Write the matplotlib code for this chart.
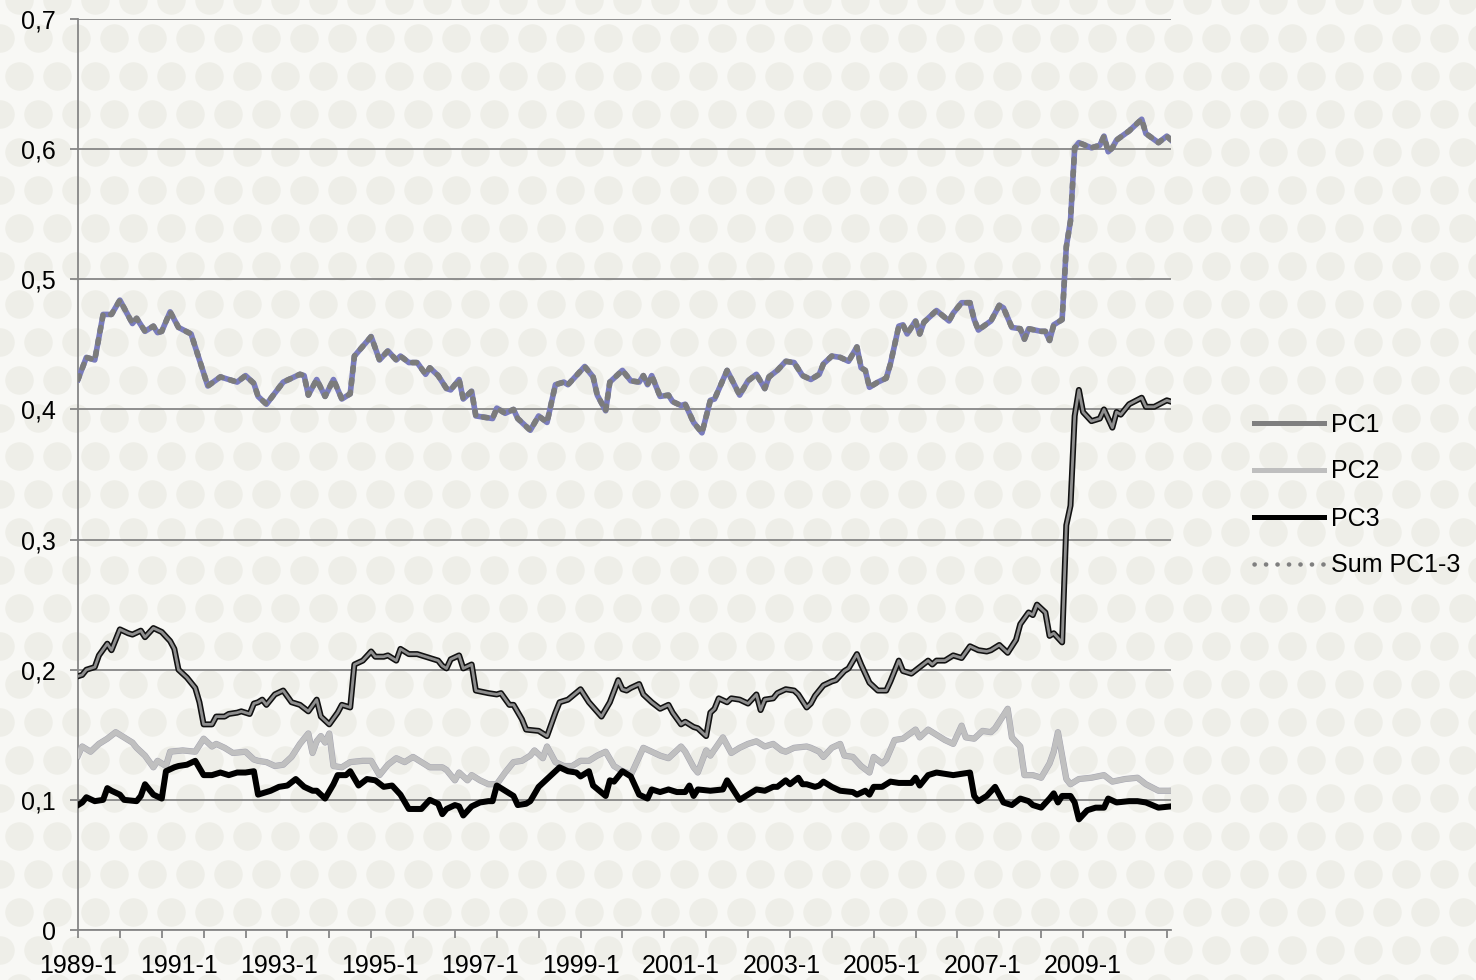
import numpy as np
import matplotlib
matplotlib.use("Agg")
import matplotlib.pyplot as plt
import matplotlib.patheffects as pe
from matplotlib.lines import Line2D
from matplotlib.ticker import FixedLocator

# ---------------- data (month index: 0 = 1989-1) ----------------
sum_m = [0, 2, 4, 6, 8, 10, 13, 14, 16, 18, 19, 20, 22, 24, 27, 29, 31, 34, 36, 38, 40, 42, 43, 45,
         49, 53, 54, 55, 57, 59, 61, 63, 65, 66, 70, 72, 74, 76, 77, 79, 81, 83, 84, 86, 88, 89, 91,
         92, 94, 95, 99, 100, 102, 104, 105, 108, 110, 112, 114, 116, 117, 121, 123, 124, 126, 127,
         130, 132, 134, 135, 136, 137, 139, 141, 142, 144, 145, 147, 149, 151, 152, 155, 158, 160,
         162, 164, 165, 167, 169, 171, 173, 175, 177, 178, 180, 182, 184, 186, 187, 188, 189, 191,
         193, 194, 196, 197, 198, 200, 201, 202, 205, 208, 209, 211, 213, 214, 215, 218, 220, 221,
         223, 225, 226, 227, 230, 231, 232, 233, 235, 236, 237, 238, 239, 242, 244, 245, 246, 247,
         248, 251, 254, 255, 258, 260, 261]
sum_v = [0.423, 0.440, 0.438, 0.473, 0.473, 0.484, 0.466, 0.470, 0.460, 0.464, 0.459, 0.460, 0.475,
         0.463, 0.458, 0.438, 0.418, 0.425, 0.423, 0.421, 0.426, 0.420, 0.410, 0.404, 0.421, 0.427,
         0.426, 0.411, 0.423, 0.410, 0.423, 0.408, 0.412, 0.441, 0.456, 0.438, 0.445, 0.438, 0.441,
         0.436, 0.436, 0.427, 0.432, 0.426, 0.416, 0.415, 0.423, 0.408, 0.414, 0.395, 0.393, 0.401,
         0.397, 0.400, 0.393, 0.384, 0.395, 0.390, 0.419, 0.421, 0.419, 0.433, 0.425, 0.411, 0.399,
         0.421, 0.430, 0.422, 0.421, 0.426, 0.419, 0.426, 0.410, 0.411, 0.406, 0.403, 0.404, 0.390,
         0.382, 0.407, 0.408, 0.430, 0.411, 0.422, 0.427, 0.416, 0.425, 0.430, 0.437, 0.436, 0.426,
         0.423, 0.427, 0.435, 0.441, 0.440, 0.437, 0.448, 0.432, 0.430, 0.417, 0.421, 0.424, 0.435,
         0.464, 0.465, 0.458, 0.468, 0.458, 0.467, 0.476, 0.468, 0.474, 0.482, 0.482, 0.469, 0.461,
         0.468, 0.480, 0.478, 0.463, 0.462, 0.454, 0.462, 0.460, 0.460, 0.453, 0.465, 0.469, 0.525,
         0.545, 0.601, 0.605, 0.601, 0.603, 0.610, 0.598, 0.601, 0.607, 0.614, 0.623, 0.612, 0.605,
         0.610, 0.607]

pc1_m = [0, 1, 2, 4, 5, 7, 8, 9, 10, 12, 13, 15, 16, 18, 20, 22, 23, 24, 26, 28, 29, 30, 32, 33,
         35, 36, 38, 39, 41, 42, 43, 44, 45, 47, 49, 51, 53, 55, 57, 58, 60, 62, 63, 65, 66, 68, 70,
         71, 73, 74, 76, 77, 79, 81, 83, 86, 87, 88, 89, 91, 92, 94, 95, 98, 100, 101, 103, 104, 106,
         107, 110, 112, 114, 115, 117, 120, 122, 125, 127, 129, 130, 131, 132, 134, 135, 137, 139,
         141, 142, 144, 145, 147, 148, 150, 151, 152, 153, 155, 156, 158, 160, 162, 163, 164, 166,
         167, 169, 171, 172, 174, 175, 176, 178, 180, 181, 183, 184, 186, 187, 189, 191, 193, 194,
         196, 197, 199, 201, 203, 204, 205, 207, 209, 211, 213, 215, 217, 218, 220, 222, 224, 225,
         227, 228, 229, 231, 232, 233, 235, 236, 237, 238, 239, 240, 242, 244, 245, 247, 248, 249,
         251, 254, 255, 257, 260, 261]
pc1_v = [0.195, 0.196, 0.200, 0.202, 0.211, 0.220, 0.215, 0.223, 0.231, 0.228, 0.227, 0.230, 0.225,
         0.232, 0.229, 0.222, 0.216, 0.200, 0.194, 0.186, 0.175, 0.158, 0.158, 0.164, 0.164, 0.166,
         0.167, 0.168, 0.166, 0.174, 0.175, 0.177, 0.173, 0.181, 0.184, 0.175, 0.173, 0.168, 0.177,
         0.164, 0.158, 0.167, 0.173, 0.171, 0.204, 0.207, 0.214, 0.210, 0.210, 0.211, 0.207, 0.216,
         0.212, 0.212, 0.210, 0.207, 0.203, 0.201, 0.208, 0.211, 0.201, 0.204, 0.184, 0.182, 0.181,
         0.182, 0.173, 0.173, 0.162, 0.154, 0.153, 0.149, 0.167, 0.175, 0.177, 0.185, 0.175, 0.164,
         0.175, 0.192, 0.185, 0.184, 0.186, 0.189, 0.181, 0.175, 0.170, 0.173, 0.167, 0.158, 0.160,
         0.156, 0.155, 0.149, 0.167, 0.170, 0.178, 0.175, 0.178, 0.177, 0.174, 0.181, 0.169, 0.177,
         0.178, 0.182, 0.185, 0.184, 0.181, 0.171, 0.174, 0.180, 0.188, 0.191, 0.192, 0.199, 0.201,
         0.212, 0.204, 0.190, 0.184, 0.184, 0.191, 0.207, 0.199, 0.197, 0.202, 0.207, 0.204, 0.207,
         0.207, 0.211, 0.209, 0.218, 0.215, 0.214, 0.215, 0.219, 0.213, 0.223, 0.235, 0.244, 0.242,
         0.250, 0.244, 0.226, 0.228, 0.221, 0.311, 0.326, 0.395, 0.415, 0.398, 0.391, 0.393, 0.400,
         0.386, 0.398, 0.396, 0.404, 0.409, 0.402, 0.402, 0.407, 0.406]

pc2_m = [0, 1, 3, 5, 7, 9, 11, 13, 14, 16, 18, 19, 21, 22, 25, 28, 30, 32, 33, 35, 37, 40, 42, 43,
         45, 47, 49, 51, 53, 55, 56, 57, 58, 59, 60, 61, 63, 65, 68, 70, 72, 74, 76, 78, 80, 82, 84,
         87, 88, 90, 91, 93, 94, 96, 98, 100, 102, 104, 106, 108, 109, 111, 112, 114, 116, 118, 120,
         122, 124, 126, 128, 130, 131, 132, 135, 137, 139, 141, 144, 145, 147, 148, 150, 151, 154,
         156, 158, 160, 162, 164, 166, 168, 169, 171, 174, 175, 177, 178, 180, 182, 183, 185, 187,
         189, 190, 192, 193, 195, 197, 200, 201, 203, 206, 207, 209, 211, 212, 214, 216, 218, 219,
         222, 223, 225, 226, 228, 230, 232, 233, 234, 236, 237, 239, 242, 245, 247, 250, 253, 255,
         258, 261]
pc2_v = [0.134, 0.141, 0.137, 0.143, 0.147, 0.152, 0.148, 0.144, 0.140, 0.134, 0.125, 0.130, 0.126,
         0.137, 0.138, 0.137, 0.147, 0.141, 0.143, 0.140, 0.136, 0.137, 0.131, 0.130, 0.129, 0.126,
         0.127, 0.133, 0.143, 0.151, 0.136, 0.145, 0.149, 0.144, 0.151, 0.126, 0.125, 0.129, 0.130,
         0.130, 0.119, 0.127, 0.132, 0.129, 0.133, 0.129, 0.125, 0.125, 0.123, 0.115, 0.121, 0.115,
         0.119, 0.115, 0.112, 0.112, 0.121, 0.129, 0.130, 0.134, 0.138, 0.132, 0.141, 0.129, 0.126,
         0.126, 0.130, 0.130, 0.134, 0.137, 0.126, 0.122, 0.121, 0.119, 0.140, 0.137, 0.134, 0.132,
         0.141, 0.137, 0.125, 0.121, 0.138, 0.134, 0.148, 0.136, 0.140, 0.143, 0.145, 0.141, 0.143,
         0.138, 0.137, 0.140, 0.141, 0.140, 0.137, 0.133, 0.140, 0.143, 0.134, 0.133, 0.126, 0.121,
         0.133, 0.128, 0.131, 0.146, 0.147, 0.154, 0.148, 0.154, 0.148, 0.146, 0.143, 0.157, 0.148,
         0.147, 0.153, 0.152, 0.155, 0.170, 0.148, 0.141, 0.119, 0.119, 0.117, 0.128, 0.137, 0.152,
         0.116, 0.112, 0.116, 0.117, 0.119, 0.114, 0.116, 0.117, 0.112, 0.107, 0.107]

pc3_m = [0, 1, 2, 4, 6, 7, 8, 10, 11, 14, 15, 16, 18, 20, 21, 23, 24, 26, 28, 30, 32, 34, 36, 38,
         40, 42, 43, 46, 48, 50, 52, 54, 56, 57, 59, 61, 62, 64, 65, 67, 69, 71, 73, 75, 77, 79, 82,
         84, 86, 87, 88, 90, 91, 92, 94, 96, 98, 99, 100, 102, 104, 105, 107, 108, 110, 113, 115,
         117, 119, 120, 122, 123, 126, 127, 128, 130, 132, 134, 136, 137, 139, 141, 143, 145, 146,
         147, 148, 151, 154, 155, 156, 158, 160, 162, 164, 166, 167, 169, 170, 172, 173, 174, 176,
         177, 178, 180, 182, 185, 186, 188, 189, 190, 192, 194, 196, 199, 200, 201, 203, 205, 207,
         209, 211, 213, 214, 215, 217, 219, 221, 223, 225, 227, 228, 230, 232, 233, 234, 235, 237,
         238, 239, 241, 243, 245, 246, 248, 251, 253, 255, 258, 261]
pc3_v = [0.096, 0.098, 0.102, 0.099, 0.100, 0.109, 0.107, 0.104, 0.100, 0.099, 0.103, 0.112, 0.104,
         0.101, 0.122, 0.125, 0.126, 0.127, 0.130, 0.119, 0.119, 0.121, 0.119, 0.121, 0.121, 0.122,
         0.104, 0.107, 0.110, 0.111, 0.116, 0.110, 0.107, 0.107, 0.101, 0.112, 0.119, 0.119, 0.122,
         0.111, 0.116, 0.115, 0.110, 0.111, 0.104, 0.093, 0.093, 0.100, 0.097, 0.089, 0.093, 0.096,
         0.095, 0.088, 0.095, 0.098, 0.099, 0.099, 0.111, 0.107, 0.103, 0.096, 0.097, 0.099, 0.110,
         0.119, 0.125, 0.122, 0.121, 0.118, 0.122, 0.111, 0.103, 0.115, 0.114, 0.122, 0.118, 0.104,
         0.101, 0.108, 0.106, 0.108, 0.106, 0.106, 0.111, 0.103, 0.108, 0.107, 0.108, 0.115, 0.110,
         0.100, 0.104, 0.108, 0.107, 0.110, 0.110, 0.115, 0.112, 0.117, 0.112, 0.112, 0.110, 0.111,
         0.114, 0.110, 0.107, 0.106, 0.104, 0.107, 0.104, 0.110, 0.110, 0.114, 0.113, 0.113, 0.117,
         0.111, 0.119, 0.121, 0.120, 0.119, 0.120, 0.121, 0.103, 0.099, 0.103, 0.110, 0.098, 0.096,
         0.101, 0.099, 0.096, 0.094, 0.101, 0.105, 0.098, 0.103, 0.103, 0.098, 0.085, 0.092, 0.094,
         0.094, 0.101, 0.098, 0.099, 0.099, 0.098, 0.094, 0.095]

series_names = ["PC1", "PC2", "PC3", "Sum PC1-3"]
xlabel_months = [0, 24, 48, 72, 96, 120, 144, 168, 192, 216, 240]
xtick_labels = ["1989-1", "1991-1", "1993-1", "1995-1", "1997-1", "1999-1",
                "2001-1", "2003-1", "2005-1", "2007-1", "2009-1"]
ytick_vals = [0, 0.1, 0.2, 0.3, 0.4, 0.5, 0.6, 0.7]
ytick_labels = ["0", "0,1", "0,2", "0,3", "0,4", "0,5", "0,6", "0,7"]
n_months = 261

# ---------------- style ----------------
plt.rcParams['font.family'] = ['Liberation Sans', 'DejaVu Sans']
plt.rcParams['font.size'] = 18

W, H = 1476, 980
fig = plt.figure(figsize=(W / 100, H / 100), dpi=100, facecolor='#f8f8f5')

# decorative dotted background
bg = fig.add_axes([0, 0, 1, 1], zorder=-10)
bg.set_xlim(0, W)
bg.set_ylim(H, 0)
bg.axis('off')
gx, gy = [], []
for r, yy in enumerate(np.arange(0, H + 40, 38)):
    off = 19 if r % 2 else 0
    for xx in np.arange(-19, W + 40, 38):
        gx.append(xx + off)
        gy.append(yy)
bg.scatter(gx, gy, s=420, color='#eeeee8', linewidths=0)

ax = fig.add_axes([78 / W, 1 - 930 / H, (1171 - 78) / W, (930 - 19) / H])
ax.set_facecolor('none')

px = 72 / 100  # points per pixel

# PC1: gray with dark outline
ax.plot(pc1_m, pc1_v, color='#8e8e8e', lw=2.8 * px, solid_joinstyle='round', zorder=3,
        path_effects=[pe.Stroke(linewidth=6.0 * px, foreground='#111111'), pe.Normal()])
# PC2: light gray with faint outline
ax.plot(pc2_m, pc2_v, color='#c0c0c0', lw=5.2 * px, solid_joinstyle='round', zorder=3,
        path_effects=[pe.Stroke(linewidth=6.2 * px, foreground='#a6a6b2'), pe.Normal()])
# PC3: black
ax.plot(pc3_m, pc3_v, color='#000000', lw=6.0 * px, solid_joinstyle='round', zorder=4)
# Sum: blue base with gray dots
ax.plot(sum_m, sum_v, color='#7a7cbd', lw=5.6 * px, solid_joinstyle='round', zorder=5)
ax.plot(sum_m, sum_v, color='#7c7c7c', lw=5.6 * px, linestyle=(0, (0.7, 1.5)),
        dash_capstyle='round', dash_joinstyle='round', zorder=6)

ax.set_xlim(0, n_months)
ax.set_ylim(0, 0.7)

for s in ['top', 'right']:
    ax.spines[s].set_visible(False)
for s in ['left', 'bottom']:
    ax.spines[s].set_color('#868686')
    ax.spines[s].set_linewidth(1.8 * px)

ax.set_yticks(ytick_vals)
ax.set_yticklabels(ytick_labels)
ax.yaxis.grid(True, color='#868686', linewidth=1.8 * px)
ax.set_axisbelow(True)
ax.tick_params(axis='y', length=8 * px, width=1.8 * px, color='#868686', pad=14 * px,
               labelsize=18)

ax.xaxis.remove_overlapping_locs = False
ax.xaxis.set_major_locator(FixedLocator(list(range(0, n_months + 1, 10))))
ax.xaxis.set_major_formatter(plt.NullFormatter())
ax.xaxis.set_minor_locator(FixedLocator(xlabel_months))
ax.set_xticklabels(xtick_labels, minor=True)
ax.tick_params(axis='x', which='major', length=8 * px, width=1.8 * px, color='#868686')
ax.tick_params(axis='x', which='minor', length=0, pad=24 * px, labelsize=18)

handles = [
    Line2D([], [], color='#7f7f7f', lw=5 * px),
    Line2D([], [], color='#bfbfbf', lw=5 * px),
    Line2D([], [], color='#000000', lw=5 * px),
    Line2D([], [], color='#7f7f7f', lw=4.5 * px, linestyle=(0, (0.05, 2.5)),
           dash_capstyle='round'),
]
leg = fig.legend(handles, series_names, loc='center left',
                 bbox_to_anchor=(1231 / W, 1 - 495 / H), frameon=False,
                 handlelength=2.8, handletextpad=0.3, labelspacing=0.92, fontsize=18)

fig.savefig('out.png', dpi=100, facecolor=fig.get_facecolor())
